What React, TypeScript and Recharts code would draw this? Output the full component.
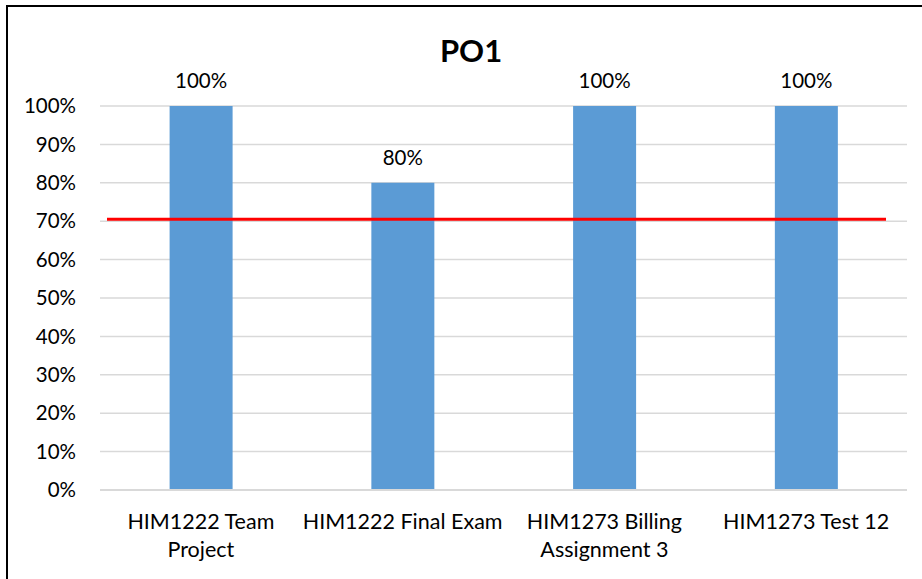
import { Bar, BarChart, CartesianGrid, LabelList, ReferenceLine, XAxis, YAxis } from "recharts";

const categories = ["HIM1222 Team\nProject", "HIM1222 Final Exam", "HIM1273 Billing\nAssignment 3", "HIM1273 Test 12"];
const scores = [100, 80, 100, 100];
const yTicks = [0, 10, 20, 30, 40, 50, 60, 70, 80, 90, 100];
const target = 70.5;

const data = categories.map((name, i) => ({ name, value: scores[i] }));

const FONT = "Lato, 'Open Sans', sans-serif";

function CategoryTick({ x, y, payload }: any) {
  const lines = String(payload.value).split("\n");
  return (
    <text x={x} y={y} textAnchor="middle" fill="#000" fontFamily={FONT} fontSize={21.5}>
      {lines.map((line, i) => (
        <tspan key={i} x={x} dy={i === 0 ? 31 : 28}>
          {line}
        </tspan>
      ))}
    </text>
  );
}

function TargetLine(props: any) {
  const { x1, x2, y1 } = props;
  return <line x1={x1 + 7} x2={x2 - 21} y1={y1} y2={y1} stroke="#ff0000" strokeWidth={3} />;
}

export default function App() {
  return (
    <div style={{ position: "absolute", left: 0, top: 0, width: 922, height: 579, overflow: "hidden", background: "#fff" }}>
      <div
        style={{
          position: "absolute",
          left: 6,
          top: 5,
          width: 940,
          height: 620,
          border: "2px solid #000"
        }}
      />
      <div
        style={{
          position: "absolute",
          left: 0,
          width: 942,
          top: 31,
          textAlign: "center",
          fontFamily: FONT,
          fontWeight: 700,
          fontSize: 31,
          color: "#000"
        }}
      >
        PO1
      </div>
      <BarChart
        width={922}
        height={579}
        data={data}
        margin={{ top: 106, right: 15, left: 20, bottom: 29 }}
        barCategoryGap="34.5%"
      >
        <CartesianGrid vertical={false} stroke="#d9d9d9" strokeWidth={1.5} />
        <XAxis
          dataKey="name"
          height={60}
          axisLine={{ stroke: "#d9d9d9", strokeWidth: 2 }}
          tickLine={false}
          tick={<CategoryTick />}
          interval={0}
        />
        <YAxis
          domain={[0, 100]}
          ticks={yTicks}
          width={80}
          axisLine={false}
          tickLine={false}
          tickMargin={18}
          tickFormatter={(v: number) => `${v}%`}
          tick={{ fill: "#000", fontFamily: FONT, fontSize: 20.5 }}
        />
        <Bar dataKey="value" fill="#5b9bd5" isAnimationActive={false}>
          <LabelList
            dataKey="value"
            position="top"
            offset={18}
            formatter={(v: any) => `${v}%`}
            style={{ fill: "#000", fontFamily: FONT, fontSize: 20.5 }}
          />
        </Bar>
        <ReferenceLine y={target} shape={<TargetLine />} />
      </BarChart>
    </div>
  );
}
